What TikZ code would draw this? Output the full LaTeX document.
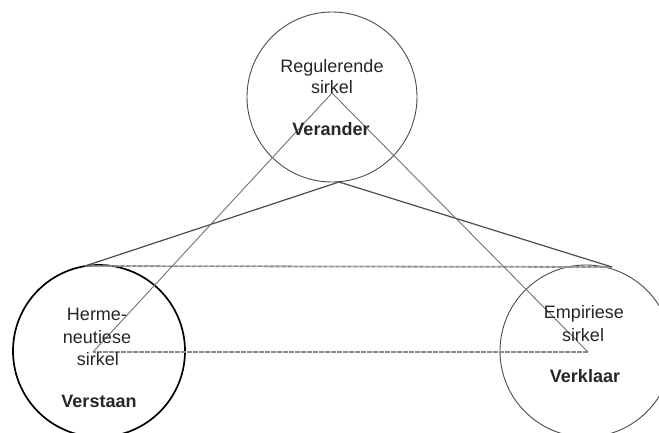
\documentclass[tikz,border=0pt]{standalone}
\usepackage{fontspec}
\setmainfont{Liberation Sans}
\tikzset{
  ring/.style={circle, draw=black!70, line width=0.9pt, inner sep=0pt},
  boldring/.style={circle, draw=black, line width=1.7pt, inner sep=0pt},
  txt/.style={anchor=base, inner sep=0pt, text=black!85, font=\fontsize{18}{21}\selectfont},
  btxt/.style={txt, font=\fontsize{18}{21}\selectfont\bfseries},
  link/.style={draw=black!55, line width=0.9pt},
  biglink/.style={draw=black!70, line width=1.2pt},
  dots/.style={draw=black!45, line width=1.8pt, dash pattern=on 0.8pt off 0.4pt}
}
\begin{document}
\begin{tikzpicture}[x=1pt,y=-1pt]
\useasboundingbox (0,0) rectangle (659,432);
\fill[white] (0,0) rectangle (659,432);
% circles
\node[ring, minimum size=170pt] (top) at (332,97) {};
\node[boldring, minimum size=172pt] (left) at (99,351) {};
\node[ring, minimum size=172pt] (right) at (586,351) {};
% named points
\coordinate (apex) at (339,182);
\coordinate (lt) at (85,266);
\coordinate (rt) at (612,267);
\coordinate (tc) at (332,93);
\coordinate (lc) at (93,352);
\coordinate (rc) at (588,352);
% lines
\draw[dots] (lt) -- (rt);
\draw[dots] (lc) -- (rc);
\draw[biglink] (lt) -- (apex) -- (rt);
\draw[link] (lc) -- (tc) -- (rc);
% texts
\node[txt] (t1) at (332,72) {Regulerende};
\node[txt] (t2) at (332,93) {sirkel};
\node[btxt] (t3) at (331,135) {Verander};
\node[txt] (l1) at (97,320) {Herme-};
\node[txt] (l2) at (97,343) {neutiese};
\node[txt] (l3) at (98,365) {sirkel};
\node[btxt] (l4) at (99,407) {Verstaan};
\node[txt] (r1) at (584,318) {Empiriese};
\node[txt] (r2) at (583,341) {sirkel};
\node[btxt] (r3) at (585,382) {Verklaar};
\end{tikzpicture}
\end{document}
